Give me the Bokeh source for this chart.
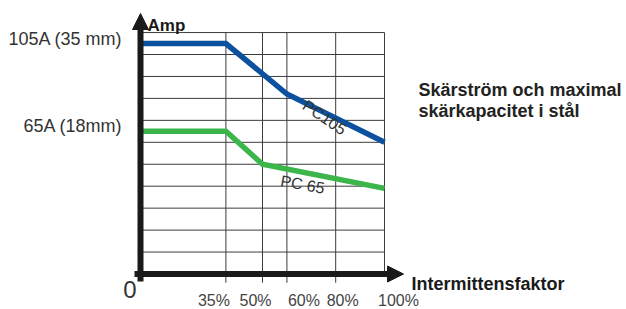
from bokeh.plotting import figure
from bokeh.models import Arrow, NormalHead, Range1d
from bokeh.core.properties import value
from bokeh.embed import file_html
from bokeh.resources import INLINE

# ---------------- data ----------------
pc105_duty = [0, 35, 60, 100]          # Intermittensfaktor (%)
pc105_amp = [105, 105, 82, 60]         # Amp
pc65_duty = [0, 35, 50, 100]
pc65_amp = [65, 65, 50, 39]
x_ticks = [35, 50, 60, 80, 100]
x_tick_labels = ["35%", "50%", "60%", "80%", "100%"]
y_marks = [105, 65]
y_mark_labels = ["105A (35 mm)", "65A (18mm)"]
grid_amps = [10, 20, 30, 40, 50, 60, 70, 80, 90, 100, 110]

# ---------------- layout ----------------
W, H = 626, 309
X0_PX, PX_PER_PCT = 140.0, 2.44
Y0_PX, PX_PER_A = 273.5, 2.195
MARGIN = 0


def fx(px):
    return (px - X0_PX) / PX_PER_PCT


def fy(py):
    return (Y0_PX - py) / PX_PER_A


FONT = value("Liberation Sans")
NARROW = value("Liberation Sans Narrow, Liberation Sans")
TXT = "#333333"
INK = "#1a1a1a"
GRID = "#3c3c3c"

p = figure(width=W, height=H, output_backend="svg", toolbar_location=None,
           x_axis_location=None, y_axis_location=None, min_border=0,
           x_range=Range1d(fx(MARGIN), fx(MARGIN + W)),
           y_range=Range1d(fy(MARGIN + H), fy(MARGIN)))
p.grid.visible = False
p.outline_line_color = None
p.background_fill_color = "white"
p.border_fill_color = "white"

# grid
p.segment(x0=[0] * len(grid_amps), x1=[100] * len(grid_amps), y0=grid_amps, y1=grid_amps,
          line_color=GRID, line_width=1)
p.segment(x0=x_ticks, x1=x_ticks, y0=[(-4 if t < 100 else 0) for t in x_ticks],
          y1=[max(grid_amps)] * len(x_ticks), line_color=GRID, line_width=1)

# series
p.line(pc105_duty, pc105_amp, line_color="#0c519f", line_width=5.5, line_join="miter")
p.line(pc65_duty, pc65_amp, line_color="#3cb54a", line_width=5.5, line_join="miter")

# axes with arrows
p.add_layout(Arrow(end=NormalHead(size=16, fill_color=INK, line_color=INK, line_width=1),
                   x_start=0, y_start=fy(281), x_end=0, y_end=fy(13),
                   line_width=6, line_color=INK))
p.add_layout(Arrow(end=NormalHead(size=16, fill_color=INK, line_color=INK, line_width=1),
                   x_start=fx(134), y_start=0, x_end=fx(403), y_end=0,
                   line_width=6, line_color=INK))

# y value labels
p.text(x=[fx(122)] * len(y_marks), y=y_marks, text=y_mark_labels, text_align="right",
       text_baseline="middle", y_offset=-5, text_font=FONT, text_font_size="18px",
       text_color=TXT)

# x tick labels
nudge = [-12, -7, 17, 7, 14]
p.text(x=x_ticks, y=[fy(300)] * len(x_ticks), x_offset=nudge, text=x_tick_labels,
       text_align="center", text_baseline="middle", text_font=NARROW,
       text_font_size="16px", text_color="#444444")
p.text(x=[fx(129.5)], y=[fy(289)], text=["0"], text_align="center", text_baseline="middle",
       text_font=FONT, text_font_size="24px", text_color=TXT)

# axis titles
p.text(x=[fx(147)], y=[fy(25)], text=["Amp"], text_align="left", text_baseline="alphabetic",
       text_font=FONT, text_font_style="bold", text_font_size="17px", text_color=INK)
p.text(x=[fx(411)], y=[fy(283)], text=["Intermittensfaktor"], text_align="left",
       text_baseline="alphabetic", text_font=FONT, text_font_style="bold",
       text_font_size="18px", text_color=INK)

# side caption
p.text(x=[fx(418)] * 2, y=[fy(89), fy(110)],
       text=["Skärström och maximal", "skärkapacitet i stål"], text_align="left",
       text_baseline="alphabetic", text_font=FONT, text_font_style="bold",
       text_font_size="18px", text_color="#222222")

# series labels
p.text(x=[fx(324)], y=[fy(117)], text=["PC105"], angle=-0.6, text_align="center",
       text_baseline="middle", text_font=FONT, text_font_size="16px", text_color=TXT)
p.text(x=[fx(302)], y=[fy(184)], text=["PC 65"], angle=-0.18, text_align="center",
       text_baseline="middle", text_font=FONT, text_font_size="16px", text_color=TXT)

open("out.html", "w").write(file_html(p, INLINE))
